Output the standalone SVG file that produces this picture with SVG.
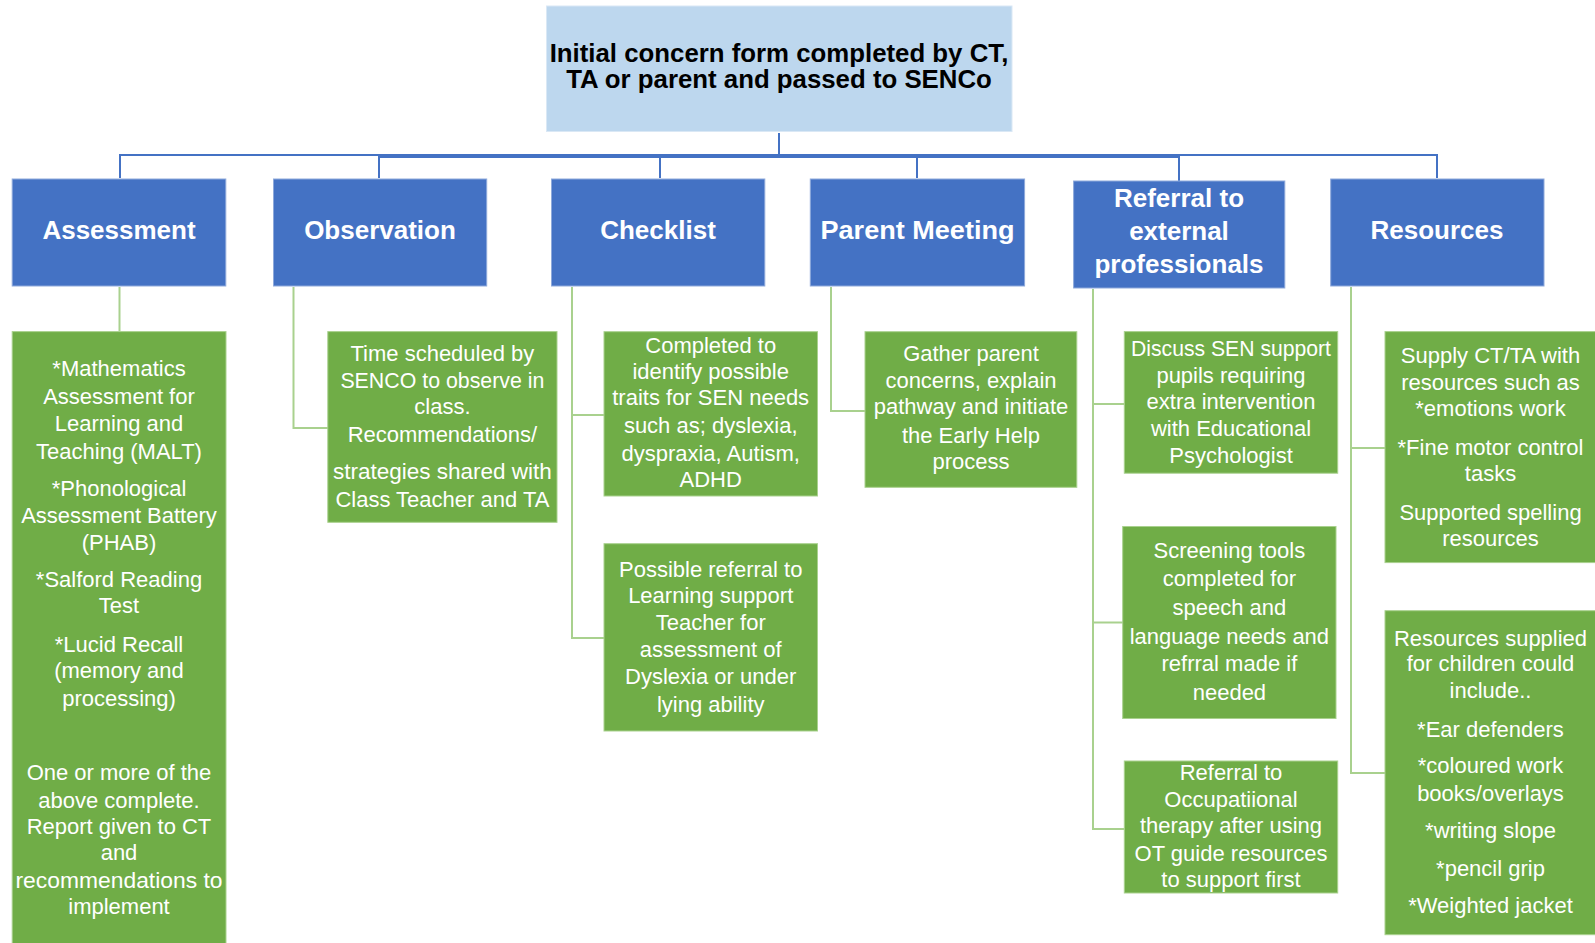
<svg xmlns="http://www.w3.org/2000/svg" width="1595" height="943" viewBox="0 0 1595 943">
<style>
.top{fill:#BDD7EE;stroke:#DAE8F5;stroke-width:1}
.hdr{fill:#4472C4;stroke:#8EA9DB;stroke-width:1}
.grn{fill:#70AD47;stroke:#A9D18E;stroke-width:1}
.tt{font-family:"Liberation Sans",Arial,sans-serif;font-weight:bold;font-size:25.8px;fill:#000;text-anchor:middle}
.ht{font-family:"Liberation Sans",Arial,sans-serif;font-weight:bold;font-size:26px;fill:#fff;text-anchor:middle}
.gt{font-family:"Liberation Sans",Arial,sans-serif;font-size:22px;fill:#fff;text-anchor:middle}
.cb{fill:none;stroke:#4472C4;stroke-width:2}
.cg{fill:none;stroke:#A9D18E;stroke-width:2}
</style>
<rect width="1595" height="943" fill="#fff"/>
<g id="connectors">
<path class="cb" d="M779 133 V157"/>
<path class="cb" d="M120 178 V155 H1437 V178"/>
<path class="cb" d="M379 178 V157 H1179 V181"/>
<path class="cb" d="M660 178 V156"/>
<path class="cb" d="M917 178 V156"/>
<path class="cg" d="M119.5 287 V331"/>
<path class="cg" d="M293.5 287 V428 H328"/>
<path class="cg" d="M572 287 V638 H604"/>
<path class="cg" d="M572 415 H604"/>
<path class="cg" d="M831 287 V411 H865"/>
<path class="cg" d="M1093 289 V829 H1124"/>
<path class="cg" d="M1093 404 H1124"/>
<path class="cg" d="M1093 622.5 H1123"/>
<path class="cg" d="M1351 287 V773 H1385"/>
<path class="cg" d="M1351 448 H1385"/>
</g>
<g id="top">
<rect class="top" x="546.5" y="6" width="465.5" height="125.5"/>
<text class="tt" x="779" y="62">Initial concern form completed by CT,</text>
<text class="tt" x="779" y="87.5">TA or parent and passed to SENCo</text>
</g>
<g id="assessment">
<rect class="hdr" x="12.2" y="179" width="213.6" height="107"/>
<text class="ht" x="119" y="239">Assessment</text>
</g>
<g id="observation">
<rect class="hdr" x="273.5" y="179" width="213.2" height="107"/>
<text class="ht" x="380" y="239">Observation</text>
</g>
<g id="checklist">
<rect class="hdr" x="551.5" y="179" width="213.3" height="107"/>
<text class="ht" x="658" y="239">Checklist</text>
</g>
<g id="parent-meeting">
<rect class="hdr" x="810.3" y="179" width="214.3" height="107"/>
<text class="ht" x="917.5" y="239" textLength="194" lengthAdjust="spacingAndGlyphs">Parent Meeting</text>
</g>
<g id="referral">
<rect class="hdr" x="1073.6" y="181" width="211.2" height="107"/>
<text class="ht" x="1179" y="207">Referral to</text>
<text class="ht" x="1179" y="240">external</text>
<text class="ht" x="1179" y="273">professionals</text>
</g>
<g id="resources">
<rect class="hdr" x="1330.7" y="179" width="213.3" height="107"/>
<text class="ht" x="1437" y="239">Resources</text>
</g>
<g id="assessment-detail">
<rect class="grn" x="12.2" y="331.6" width="213.8" height="620"/>
<text class="gt" x="119" y="376">*Mathematics</text>
<text class="gt" x="119" y="404">Assessment for</text>
<text class="gt" x="119" y="431">Learning and</text>
<text class="gt" x="119" y="459">Teaching (MALT)</text>
<text class="gt" x="119" y="496">*Phonological</text>
<text class="gt" x="119" y="523">Assessment Battery</text>
<text class="gt" x="119" y="550">(PHAB)</text>
<text class="gt" x="119" y="587">*Salford Reading</text>
<text class="gt" x="119" y="613">Test</text>
<text class="gt" x="119" y="652">*Lucid Recall</text>
<text class="gt" x="119" y="678">(memory and</text>
<text class="gt" x="119" y="706">processing)</text>
<text class="gt" x="119" y="780">One or more of the</text>
<text class="gt" x="119" y="808">above complete.</text>
<text class="gt" x="119" y="834">Report given to CT</text>
<text class="gt" x="119" y="860">and</text>
<text class="gt" x="119" y="888" textLength="207" lengthAdjust="spacingAndGlyphs">recommendations to</text>
<text class="gt" x="119" y="914">implement</text>
</g>
<g id="observation-detail">
<rect class="grn" x="327.8" y="331.6" width="229.2" height="190.7"/>
<text class="gt" x="442.4" y="361">Time scheduled by</text>
<text class="gt" x="442.4" y="387.5" textLength="204" lengthAdjust="spacingAndGlyphs">SENCO to observe in</text>
<text class="gt" x="442.4" y="414">class.</text>
<text class="gt" x="442.4" y="441.5">Recommendations/</text>
<text class="gt" x="442.4" y="479" textLength="219" lengthAdjust="spacingAndGlyphs">strategies shared with</text>
<text class="gt" x="442.4" y="506.5">Class Teacher and TA</text>
</g>
<g id="checklist-detail-1">
<rect class="grn" x="604" y="331.7" width="213.5" height="164.3"/>
<text class="gt" x="710.7" y="353">Completed to</text>
<text class="gt" x="710.7" y="378.5">identify possible</text>
<text class="gt" x="710.7" y="405">traits for SEN needs</text>
<text class="gt" x="710.7" y="433">such as; dyslexia,</text>
<text class="gt" x="710.7" y="460.5">dyspraxia, Autism,</text>
<text class="gt" x="710.7" y="487">ADHD</text>
</g>
<g id="checklist-detail-2">
<rect class="grn" x="604" y="543.7" width="213.5" height="187.3"/>
<text class="gt" x="710.7" y="576.5">Possible referral to</text>
<text class="gt" x="710.7" y="603">Learning support</text>
<text class="gt" x="710.7" y="629.5">Teacher for</text>
<text class="gt" x="710.7" y="657">assessment of</text>
<text class="gt" x="710.7" y="683.5">Dyslexia or under</text>
<text class="gt" x="710.7" y="712">lying ability</text>
</g>
<g id="parent-detail">
<rect class="grn" x="865" y="331.7" width="211.8" height="155.6"/>
<text class="gt" x="971" y="361">Gather parent</text>
<text class="gt" x="971" y="387.5">concerns, explain</text>
<text class="gt" x="971" y="414">pathway and initiate</text>
<text class="gt" x="971" y="442.5">the Early Help</text>
<text class="gt" x="971" y="469">process</text>
</g>
<g id="referral-detail-1">
<rect class="grn" x="1124.3" y="331.6" width="213.4" height="141.6"/>
<text class="gt" x="1231" y="356" textLength="200" lengthAdjust="spacingAndGlyphs">Discuss SEN support</text>
<text class="gt" x="1231" y="382.5">pupils requiring</text>
<text class="gt" x="1231" y="409">extra intervention</text>
<text class="gt" x="1231" y="436">with Educational</text>
<text class="gt" x="1231" y="462.5">Psychologist</text>
</g>
<g id="referral-detail-2">
<rect class="grn" x="1122.7" y="526.5" width="213.3" height="192"/>
<text class="gt" x="1229.4" y="557.5">Screening tools</text>
<text class="gt" x="1229.4" y="586">completed for</text>
<text class="gt" x="1229.4" y="614.5">speech and</text>
<text class="gt" x="1229.4" y="644">language needs and</text>
<text class="gt" x="1229.4" y="671">refrral made if</text>
<text class="gt" x="1229.4" y="700">needed</text>
</g>
<g id="referral-detail-3">
<rect class="grn" x="1124.3" y="761" width="213.4" height="132"/>
<text class="gt" x="1231" y="780">Referral to</text>
<text class="gt" x="1231" y="806.5">Occupatiional</text>
<text class="gt" x="1231" y="833">therapy after using</text>
<text class="gt" x="1231" y="860.5">OT guide resources</text>
<text class="gt" x="1231" y="887">to support first</text>
</g>
<g id="resources-detail-1">
<rect class="grn" x="1385" y="331.6" width="214" height="231"/>
<text class="gt" x="1490.5" y="363">Supply CT/TA with</text>
<text class="gt" x="1490.5" y="389.5">resources such as</text>
<text class="gt" x="1490.5" y="416">*emotions work</text>
<text class="gt" x="1490.5" y="454.5">*Fine motor control</text>
<text class="gt" x="1490.5" y="481">tasks</text>
<text class="gt" x="1490.5" y="520">Supported spelling</text>
<text class="gt" x="1490.5" y="546">resources</text>
</g>
<g id="resources-detail-2">
<rect class="grn" x="1385" y="610.7" width="214" height="324"/>
<text class="gt" x="1490.5" y="646">Resources supplied</text>
<text class="gt" x="1490.5" y="671">for children could</text>
<text class="gt" x="1490.5" y="698">include..</text>
<text class="gt" x="1490.5" y="736.5">*Ear defenders</text>
<text class="gt" x="1490.5" y="773">*coloured work</text>
<text class="gt" x="1490.5" y="800.5">books/overlays</text>
<text class="gt" x="1490.5" y="838">*writing slope</text>
<text class="gt" x="1490.5" y="875.5">*pencil grip</text>
<text class="gt" x="1490.5" y="913">*Weighted jacket</text>
</g>
</svg>
